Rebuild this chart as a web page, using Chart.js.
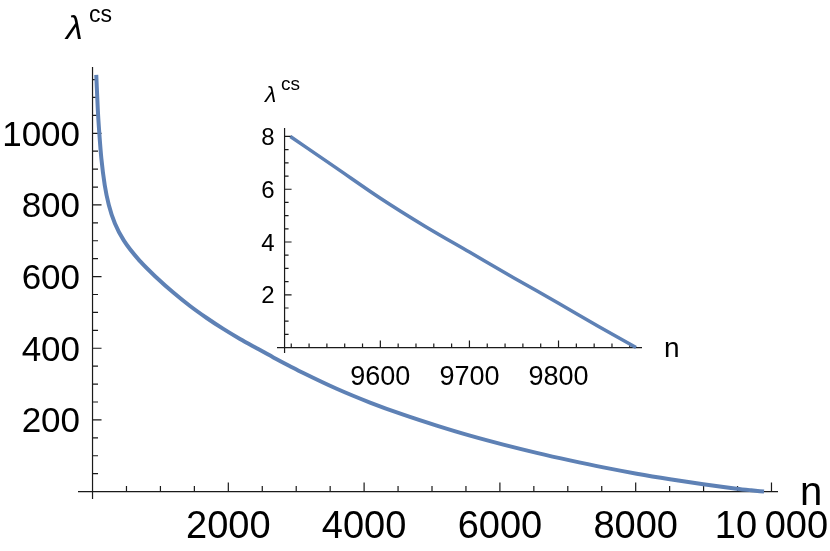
<!DOCTYPE html>
<html>
<head>
<meta charset="utf-8">
<title>lambda cs vs n</title>
<script src="https://cdn.jsdelivr.net/npm/chart.js@4.4.1/dist/chart.umd.min.js"></script>
<style>
    html, body { margin: 0; padding: 0; background: #fff; }
    #wrap { position: relative; width: 830px; height: 551px; }
    #wrap canvas { position: absolute; left: 0; top: 0; }
</style>
</head>
<body>
<div id="wrap">
    <canvas id="main-chart" width="830" height="551"></canvas>
    <canvas id="inset-chart" width="830" height="551"></canvas>
</div>
<script>
// main curve
var mainN = [55, 78, 100, 130, 180, 240, 330, 460, 700, 945, 1190, 1436, 1682, 1926, 2172, 2418, 2663, 2909,
    3105, 3596, 4087, 4577, 5069, 5560, 6050, 6542, 7032, 7523, 8015, 8505, 8995, 9487, 9700, 9890];
var mainLambda = [1163, 1065, 1000, 930, 855, 800, 748, 701, 643, 597, 555.5, 518, 484.5, 454, 426, 400, 374.5, 350,
    331, 287, 248.5, 214.5, 184, 156, 131, 108, 87, 67.5, 50, 34.5, 20.5, 8.2, 3.7, 0];

// zoomed tail (inset)
var insetN = [9499, 9550, 9600, 9650, 9700, 9750, 9800, 9845, 9887];
var insetLambda = [8.0, 6.82, 5.66, 4.6, 3.62, 2.64, 1.68, 0.8, 0];

// tick labels
var mainXTicks = [2000, 4000, 6000, 8000, 10000];
var mainXTickLabels = ['2000', '4000', '6000', '8000', '10\u2009000'];
var mainYTicks = [200, 400, 600, 800, 1000];
var insetXTicks = [9600, 9700, 9800];
var insetYTicks = [2, 4, 6, 8];

var FONT = '"Liberation Sans", Arial, Helvetica, sans-serif';
var CURVE = '#5e81b5';

function toPoints(xs, ys) {
    var pts = [];
    for (var i = 0; i < xs.length; i++) {
        pts.push({ x: xs[i], y: ys[i] });
    }
    return pts;
}

// Mathematica-style axes: cross at origin, ticks pointing inward
var mathAxes = {
    id: 'mathAxes',
    beforeDatasetsDraw: function (chart, args, o) {
        var ctx = chart.ctx;
        var xs = chart.scales.x, ys = chart.scales.y;
        var x0 = xs.getPixelForValue(o.originX);
        var y0 = ys.getPixelForValue(o.originY);
        var v, p, i;

        ctx.save();
        ctx.strokeStyle = '#1a1a1a';
        ctx.lineWidth = 1.2;
        ctx.beginPath();
        ctx.moveTo(xs.left, y0);
        ctx.lineTo(xs.right, y0);
        ctx.moveTo(x0, ys.top);
        ctx.lineTo(x0, ys.bottom);

        // x ticks
        for (v = o.xMinorStart; v <= o.xMax + 1e-9; v += o.xMinorStep) {
            var isMajor = o.xTicks.indexOf(Math.round(v * 100) / 100) >= 0;
            p = xs.getPixelForValue(v);
            ctx.moveTo(p, y0);
            ctx.lineTo(p, y0 - (isMajor ? o.majorLen : o.minorLen));
        }
        // y ticks
        for (v = o.yMinorStart; v <= o.yMax + 1e-9; v += o.yMinorStep) {
            var isMajorY = o.yTicks.indexOf(Math.round(v * 100) / 100) >= 0;
            p = ys.getPixelForValue(v);
            ctx.moveTo(x0, p);
            ctx.lineTo(x0 + (isMajorY ? o.majorLen : o.minorLen), p);
        }
        ctx.stroke();

        ctx.fillStyle = '#000';
        // x tick labels
        ctx.font = o.xFont + 'px ' + FONT;
        ctx.textAlign = 'center';
        ctx.textBaseline = 'alphabetic';
        for (i = 0; i < o.xTicks.length; i++) {
            p = xs.getPixelForValue(o.xTicks[i]);
            ctx.fillText(o.xLabels[i], p, y0 + o.xLabelDrop);
        }
        // y tick labels
        ctx.font = o.yFont + 'px ' + FONT;
        ctx.textAlign = 'right';
        for (i = 0; i < o.yTicks.length; i++) {
            p = ys.getPixelForValue(o.yTicks[i]);
            ctx.fillText(String(o.yTicks[i]), x0 - o.yLabelGap, p + 0.358 * o.yFont);
        }

        // axis titles
        ctx.textAlign = 'left';
        ctx.font = o.nFont + 'px ' + FONT;
        ctx.fillText('n', o.nPos[0], o.nPos[1]);
        ctx.font = 'italic ' + o.lamFont + 'px ' + FONT;
        ctx.fillText('\u03bb', o.lamPos[0], o.lamPos[1]);
        ctx.font = o.csFont + 'px ' + FONT;
        ctx.fillText('cs', o.csPos[0], o.csPos[1]);
        ctx.restore();
    }
};

new Chart(document.getElementById('main-chart'), {
    type: 'line',
    data: {
        datasets: [{
            data: toPoints(mainN, mainLambda),
            borderColor: CURVE,
            borderWidth: 4,
            pointRadius: 0,
            fill: false,
            cubicInterpolationMode: 'monotone',
            clip: false
        }]
    },
    options: {
        responsive: false,
        animation: false,
        events: [],
        layout: { padding: { left: 78, right: 52, top: 67, bottom: 52 } },
        scales: {
            x: { type: 'linear', min: -214, max: 10096, display: false },
            y: { type: 'linear', min: -20.7, max: 1185, display: false }
        },
        plugins: {
            legend: { display: false },
            tooltip: { enabled: false },
            mathAxes: {
                originX: 0, originY: 0,
                xTicks: mainXTicks, xLabels: mainXTickLabels,
                yTicks: mainYTicks,
                xMinorStart: 500, xMinorStep: 500, xMax: 10000,
                yMinorStart: 50, yMinorStep: 50, yMax: 1150,
                majorLen: 9, minorLen: 5.5,
                xFont: 38, yFont: 35,
                xLabelDrop: 46, yLabelGap: 12.5,
                nFont: 40, nPos: [800, 505],
                lamFont: 34, lamPos: [66, 39],
                csFont: 23, csPos: [89, 21.5]
            }
        }
    },
    plugins: [mathAxes]
});

new Chart(document.getElementById('inset-chart'), {
    type: 'line',
    data: {
        datasets: [{
            data: toPoints(insetN, insetLambda),
            borderColor: CURVE,
            borderWidth: 3.5,
            pointRadius: 0,
            fill: false,
            cubicInterpolationMode: 'monotone',
            clip: false
        }]
    },
    options: {
        responsive: false,
        animation: false,
        events: [],
        layout: { padding: { left: 277, right: 188, top: 128, bottom: 198 } },
        scales: {
            x: { type: 'linear', min: 9484, max: 9893.7, display: false },
            y: { type: 'linear', min: -0.205, max: 8.32, display: false }
        },
        plugins: {
            legend: { display: false },
            tooltip: { enabled: false },
            mathAxes: {
                originX: 9492.5, originY: 0,
                xTicks: insetXTicks, xLabels: insetXTicks.map(String),
                yTicks: insetYTicks,
                xMinorStart: 9500, xMinorStep: 20, xMax: 9880,
                yMinorStart: 0.5, yMinorStep: 0.5, yMax: 8,
                majorLen: 7, minorLen: 4,
                xFont: 27, yFont: 24,
                xLabelDrop: 37, yLabelGap: 10,
                nFont: 28, nPos: [664, 357],
                lamFont: 23, lamPos: [265, 102],
                csFont: 19, csPos: [281, 90]
            }
        }
    },
    plugins: [mathAxes]
});
</script>
</body>
</html>
